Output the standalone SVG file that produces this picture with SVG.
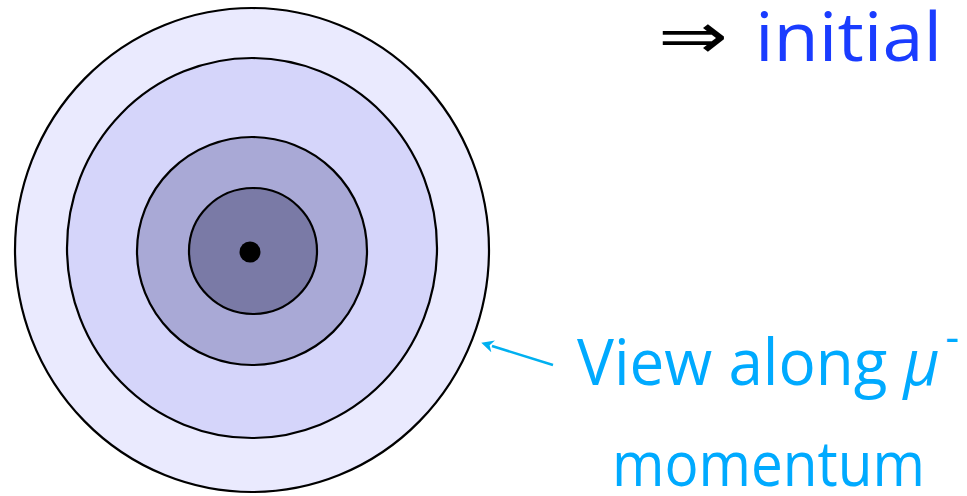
<svg xmlns="http://www.w3.org/2000/svg" width="967" height="496" viewBox="0 0 967 496">
<defs>
<style>
.ring{stroke:#000;stroke-width:2.2}
.blue{font-family:"Open Sans","Liberation Sans",sans-serif;fill:#1a3cff}
.cyan{font-family:"Open Sans","Liberation Sans",sans-serif;fill:#00aaff}
</style>
<marker id="ah" viewBox="0 0 10 10" refX="1" refY="5" markerWidth="5" markerHeight="5" orient="auto-start-reverse">
<path d="M0,0 L10,5 L0,10 L3,5 Z" fill="#00b0f0"/>
</marker>
</defs>
<rect width="967" height="496" fill="#fff"/>
<g id="target">
<ellipse class="ring" cx="252" cy="250" rx="237" ry="242" fill="#eaeafe"/>
<ellipse class="ring" cx="252" cy="248" rx="185" ry="190" fill="#d5d5fa"/>
<ellipse class="ring" cx="252" cy="251" rx="115" ry="114" fill="#a9a9d6"/>
<ellipse class="ring" cx="253" cy="251" rx="64" ry="63" fill="#7a7aa6"/>
<circle cx="250" cy="252" r="10.5" fill="#000"/>
</g>
<g id="title">
<text x="658" y="58" font-family="DejaVu Sans,sans-serif" font-size="64" textLength="70" lengthAdjust="spacingAndGlyphs" fill="#000">⇒</text>
<text class="blue" x="755" y="61" font-size="68" textLength="187" lengthAdjust="spacingAndGlyphs">initial</text>
</g>
<g id="connectors">
<line x1="553" y1="365" x2="492" y2="346" stroke="#00b0f0" stroke-width="2.5" marker-end="url(#ah)"/>
</g>
<g id="label">
<text class="cyan" x="577" y="385" font-size="64" textLength="382" lengthAdjust="spacingAndGlyphs">View along <tspan font-style="italic">μ</tspan><tspan dx="6" dy="-33" font-size="44">-</tspan></text>
<text class="cyan" x="612" y="486" font-size="62" textLength="313" lengthAdjust="spacingAndGlyphs">momentum</text>
</g>
</svg>
